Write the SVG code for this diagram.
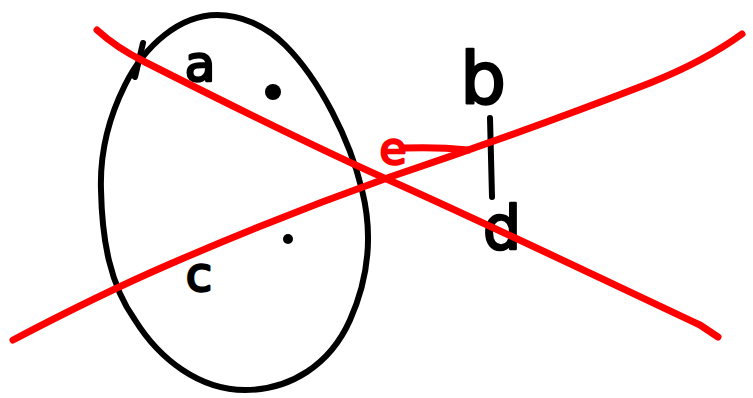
<svg xmlns="http://www.w3.org/2000/svg" width="753" height="398" viewBox="0 0 753 398">
<style>
.ink{fill:none;stroke:#000;stroke-width:6;stroke-linecap:round;stroke-linejoin:round}
.red{fill:none;stroke:#ff0000;stroke-width:7;stroke-linecap:round;stroke-linejoin:round}
.lbl{font-family:"DejaVu Sans",sans-serif;fill:#000;stroke:#000;stroke-width:2.5;stroke-linejoin:round;text-anchor:middle}
.lblr{font-family:"DejaVu Sans",sans-serif;fill:#ff0000;stroke:#ff0000;stroke-width:2.5;stroke-linejoin:round;text-anchor:middle}
</style>
<rect width="753" height="398" fill="#fff"/>
<g id="egg">
<path class="ink" d="M217,15 C180,15 145,45 125,85 C105,125 100,160 101,190 C102,240 110,285 135,320 C160,360 200,390 245,390 C290,390 330,365 350,320 C370,275 372,230 362,190 C350,140 320,80 285,45 C265,25 240,15 217,15 Z"/>
<path class="ink" d="M143,43 L135,77"/>
<circle cx="273" cy="92" r="8" fill="#000"/>
<circle cx="288" cy="239" r="5" fill="#000"/>
</g>
<g id="label-a"><text class="lbl" x="200" y="81" font-size="50">a</text></g>
<g id="label-b"><text class="lbl" x="483" y="103" font-size="72">b</text></g>
<g id="label-c"><text class="lbl" x="199" y="291" font-size="48">c</text></g>
<g id="label-d"><text class="lbl" x="502" y="249" font-size="60">d</text></g>
<g id="label-e"><text class="lblr" x="393" y="164" font-size="44">e</text><path class="red" d="M404,148 C430,147 450,148 468,150"/></g>
<g id="connectors">
<path class="ink" d="M490,118 L492,197"/>
<path class="red" d="M97,30 C110,42 125,52 145,62 C230,105 320,150 400,185 C500,230 600,278 700,325 L718,337"/>
<path class="red" d="M13,340 C70,310 110,290 170,264 C260,225 320,202 390,177 C470,150 560,118 650,83 C690,67 720,50 742,34"/>
</g>
</svg>
